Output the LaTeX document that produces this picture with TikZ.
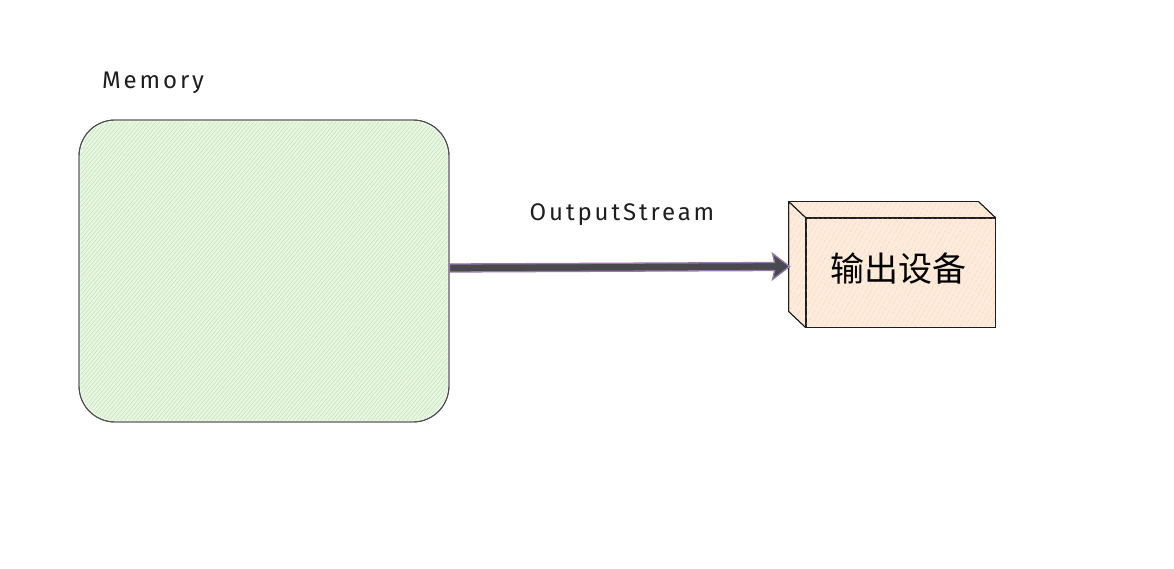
\documentclass[tikz,border=0pt]{standalone}
\usepackage{fontspec}
\setmainfont{Fira Sans}
\newfontfamily\hand[LetterSpace=12]{Fira Sans}
\newfontfamily\cjk{Noto Sans CJK SC}
\usetikzlibrary{patterns,patterns.meta,calc}
\definecolor{memfill}{HTML}{EAF6E4}
\definecolor{memhatch}{HTML}{B9E0AA}
\definecolor{devfill}{HTML}{FDEBDC}
\definecolor{devhatch}{HTML}{F8C79E}
\definecolor{arrowfill}{HTML}{4A4A4E}
\definecolor{arrowedge}{HTML}{9A78B0}
\definecolor{ink}{HTML}{1E1E1E}
\tikzset{
  label text/.style={font=\hand\fontsize{24}{28}\selectfont, text=ink, inner sep=0pt},
  membox/.style={draw=ink!80, line width=0.9pt, rounded corners=36pt, fill=memfill,
    minimum width=370pt, minimum height=302pt, inner sep=0pt},
  devface/.style={draw=ink, line width=0.9pt, fill=devfill, minimum width=189pt,
    minimum height=109pt, inner sep=0pt},
  bigarrow/.style={fill=arrowfill, draw=arrowedge, line width=1.3pt, line join=miter},
}
\begin{document}
\begin{tikzpicture}[x=1pt,y=-1pt]
\useasboundingbox (0,0) rectangle (1174,569);
% Memory box
\node[membox] (mem) at (264,271) {};
\fill[pattern={Lines[angle=50,distance=3pt,line width=0.4pt]}, pattern color=memhatch, rounded corners=36pt]
  ($(mem.north west)+(2,2)$) rectangle ($(mem.south east)+(-2,-2)$);
\node[membox, fill=none] at (264,271) {};
\node[label text, anchor=base west] (memlbl) at (102,89) {Memory};
% Device (3D box)
\node[devface] (dev) at (900.5,272.5) {};
\coordinate (bnw) at ($(dev.north west)+(-17,-16)$);
\coordinate (bne) at ($(dev.north east)+(-17,-16)$);
\coordinate (bsw) at ($(dev.south west)+(-17,-16)$);
\filldraw[fill=devfill, draw=ink, line width=0.9pt, line join=round]
  (bnw) -- (bne) -- (dev.north east) -- (dev.north west) -- cycle;
\filldraw[fill=devfill, draw=ink, line width=0.9pt, line join=round]
  (bnw) -- (dev.north west) -- (dev.south west) -- (bsw) -- cycle;
\fill[pattern={Lines[angle=60,distance=4pt,line width=0.5pt]}, pattern color=devhatch]
  (bnw) -- (bne) -- (dev.north east) -- (dev.south east) -- (dev.south west) -- (bsw) -- cycle;
\draw[ink, line width=0.9pt, line join=round]
  (bnw) -- (bne) -- (dev.north east) -- (dev.south east) -- (dev.south west) -- (bsw) -- cycle
  (dev.north west) -- (dev.north east) (dev.north west) -- (dev.south west) (bnw) -- (dev.north west);
\node[font=\cjk\fontsize{34}{38}\selectfont, text=black] (devtxt) at ($(dev.center)+(-2,-4)$) {输出设备};
% Arrow
\coordinate (a0) at ($(mem.east)+(0,-3)$);
\coordinate (a1) at ($(dev.west)+(-16,-6)$);
\path[bigarrow]
  ($(a0)+(0,-4)$) -- ($(a1)+(-15,-4)$) -- ($(a1)+(-17,-13)$) -- (a1)
  -- ($(a1)+(-17,13)$) -- ($(a1)+(-15,4)$) -- ($(a0)+(0,4)$) -- cycle;
\node[label text, anchor=base] (outlbl) at (622,221) {OutputStream};
\end{tikzpicture}
\end{document}
